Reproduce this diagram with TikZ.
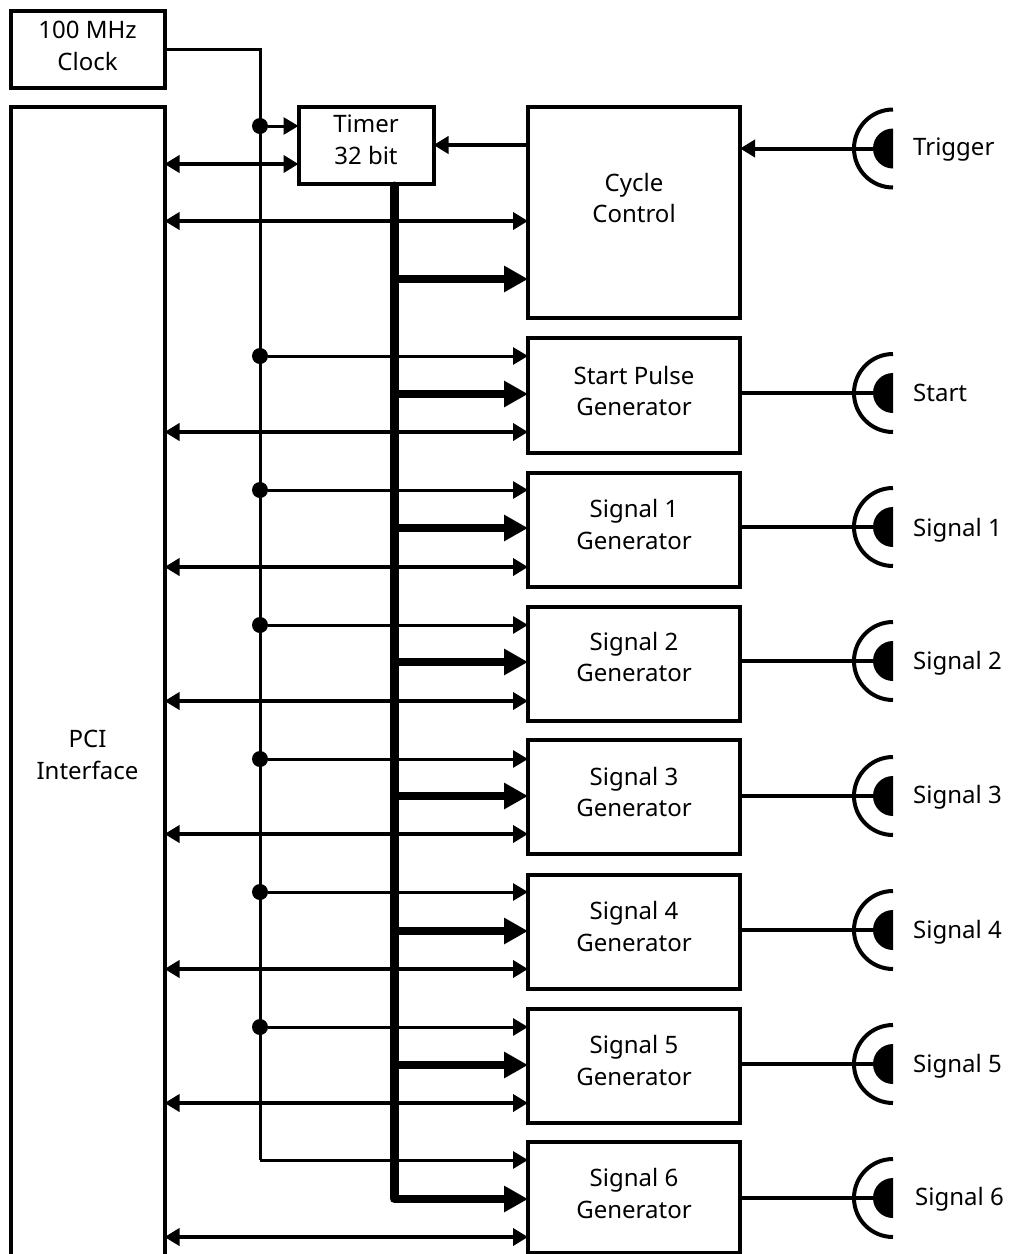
\documentclass[tikz,border=0pt]{standalone}
\usepackage{fontspec}
\setmainfont{Noto Sans}
\usetikzlibrary{arrows.meta,calc}
\tikzset{
  x=1pt,y=-1pt,
  block/.style={draw=black,line width=4pt,fill=none,inner sep=0pt,outer sep=0pt,anchor=center},
  blocktext/.style={align=center,inner sep=0pt,font=\fontsize{24}{31.5}\selectfont,text=black,anchor=center},
  thinwire/.style={line width=3pt,draw=black},
  ctl/.style={line width=3pt,-{Triangle[length=15pt,width=17pt]}},
  dbl/.style={line width=4.5pt,{Triangle[length=15pt,width=17pt]}-{Triangle[length=15pt,width=17pt]}},
  sig/.style={line width=4pt,-{Triangle[length=15pt,width=17pt]}},
  busline/.style={line width=9pt,line cap=round},
  busarrow/.style={line width=8pt,-{Triangle[length=24pt,width=25pt]}},
  junction/.style={circle,fill=black,inner sep=0pt,minimum size=16pt},
  jacklabel/.style={font=\fontsize{24}{28}\selectfont,anchor=west,inner sep=0pt},
  pics/jack/.style={code={
    \draw[line width=4pt] (0,39) arc (90:270:39);
    \fill (0,20) arc (90:270:20) -- cycle;
  }}
}
\begin{document}
\begin{tikzpicture}
\useasboundingbox (0,0) rectangle (1010,1254);
\clip (0,0) rectangle (1010,1254);
\coordinate (wiretop) at (260,49);
\coordinate (wirebot) at (260,1160);
\coordinate (jt) at (260,126);
\coordinate (tdbl) at (260,164);
\coordinate (cdbl) at (260,221);
\coordinate (cbus) at (394,279);
\coordinate (bustop) at (394,186);
\coordinate (busbot) at (394,1198.5);
\coordinate (trg) at (893,148.5);
\coordinate (ccy) at (528,145);

\node[block,minimum width=154pt,minimum height=77pt] (clock) at (87.5,49) {};
\node[blocktext,yshift=3pt] (clockT) at (clock) {100 MHz\\Clock};
\node[block,minimum width=154pt,minimum height=1294pt] (pci) at (87.5,754) {};
\node[blocktext,yshift=-1pt] (pciT) at (pci) {PCI\\Interface};
\node[block,minimum width=135pt,minimum height=77pt] (timer) at (366,145) {};
\node[blocktext,yshift=5pt] (timerT) at (timer) {Timer\\32 bit};
\node[block,minimum width=212pt,minimum height=211pt] (cycle) at (634,212) {};
\node[blocktext,yshift=14pt] (cycleT) at (cycle) {Cycle\\Control};

% clock tree and timer bus
\draw[thinwire,line join=miter] (clock.east |- wiretop) -- (wiretop) -- (wirebot);
\draw[busline] (bustop) -- (busbot);
\node[junction] (njt) at (jt) {};
\draw[ctl] (njt) -- (jt -| timer.west);
\draw[dbl] (tdbl -| pci.east) -- (tdbl -| timer.west);
\draw[dbl] (cdbl -| pci.east) -- (cdbl -| cycle.west);
\draw[busarrow] (cbus) -- (cbus -| cycle.west);
\draw[sig] (ccy) -- (ccy -| timer.east);
\pic at (trg) {jack};
\draw[sig] ($(trg)+(-19,0)$) -- (trg -| cycle.east);
\node[jacklabel] (labt) at (913,150) {Trigger};

\foreach \n/\t/\b/\txt/\wy/\by/\dy/\cy/\lab/\lx/\ly/\sh in {
  start/338/453/Start Pulse/356/394/432/393/Start/913/393/4.5,
  a/473/587/Signal 1/490/528/567/527/Signal 1/913/530/5.5,
  b/607/721/Signal 2/625/662/701/661/Signal 2/913/663/7,
  c/740/854/Signal 3/759/796/834/796/Signal 3/913/797/5,
  d/875/989/Signal 4/892/931/969/930/Signal 4/913/932/5.5,
  e/1009/1123/Signal 5/1027/1065/1103/1064/Signal 5/913/1066/5.5,
  f/1142/1253/Signal 6/1160/1199/1237/1198/Signal 6/915/1199/4}{
  \pgfmathsetmacro\h{\b-\t}
  \pgfmathsetmacro\m{(\b+\t)/2}
  \node[block,minimum width=212pt,minimum height=\h pt] (\n) at (634,\m) {};
  \node[blocktext,yshift=\sh pt] (\n T) at (\n) {\txt\\Generator};
  \coordinate (w\n) at (260,\wy);
  \coordinate (bus\n) at (394,\by);
  \coordinate (dbl\n) at (260,\dy);
  \coordinate (jack\n) at (893,\cy);
  \pic at (jack\n) {jack};
  \node[jacklabel] (lab\n) at (\lx,\ly) {\lab};
  \draw[line width=4pt] (jack\n -| \n.east) -- ($(jack\n)+(-19,0)$);
  \draw[busarrow] (bus\n) -- (bus\n -| \n.west);
  \draw[dbl] (dbl\n -| pci.east) -- (dbl\n -| \n.west);
}
\foreach \n in {start,a,b,c,d,e}{
  \node[junction] (j\n) at (w\n) {};
  \draw[ctl] (j\n) -- (w\n -| \n.west);
}
\draw[ctl] (wirebot) -- (wirebot -| f.west);
\end{tikzpicture}
\end{document}
